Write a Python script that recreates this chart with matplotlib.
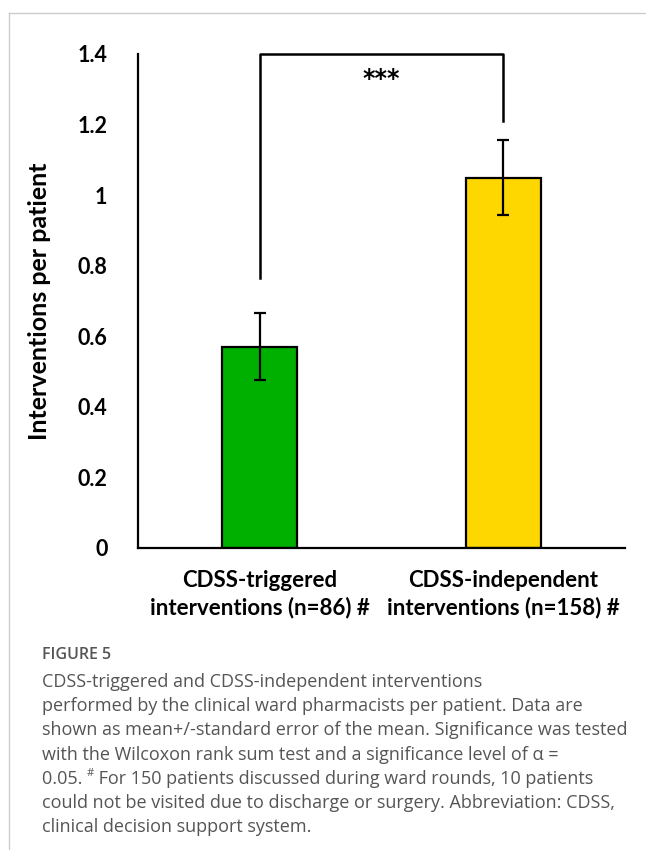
import matplotlib
matplotlib.use("Agg")
import matplotlib.pyplot as plt
from matplotlib.lines import Line2D

categories = ["CDSS-triggered\ninterventions (n=86) #",
              "CDSS-independent\ninterventions (n=158) #"]
means = [0.57, 1.05]
sem = [0.095, 0.105]
bar_colors = ["#00B000", "#FFD700"]
yticks = [0, 0.2, 0.4, 0.6, 0.8, 1, 1.2, 1.4]
ytick_labels = ["0", "0.2", "0.4", "0.6", "0.8", "1", "1.2", "1.4"]

# significance bracket: left foot, top, right foot (data units)
bracket_left, bracket_top, bracket_right = 0.765, 1.4, 1.21
stars = "***"

caption_title = "FIGURE 5"
caption_lines = [
    "CDSS-triggered and CDSS-independent interventions",
    "performed by the clinical ward pharmacists per patient. Data are",
    "shown as mean+/-standard error of the mean. Significance was tested",
    "with the Wilcoxon rank sum test and a significance level of \u03b1 =",
    ("0.05. ", "#", " For 150 patients discussed during ward rounds, 10 patients"),
    "could not be visited due to discharge or surgery. Abbreviation: CDSS,",
    "clinical decision support system.",
]

W, H = 646, 850
fig = plt.figure(figsize=(W / 100, H / 100), dpi=100)
ax = fig.add_axes([138 / W, 1 - 548 / H, (625 - 138) / W, (548 - 54) / H])

x = range(len(categories))
ax.bar(x, means, width=0.31, color=bar_colors, edgecolor="black", linewidth=1.6,
       zorder=2)
ax.errorbar(x, means, yerr=sem, fmt="none", ecolor="black", elinewidth=1.6,
            capsize=4.5, capthick=1.6, zorder=3)

ax.set_xlim(-0.5, 1.5)
ax.set_ylim(0, 1.4)
ax.set_yticks(yticks)
ax.set_yticklabels(ytick_labels)
ax.set_xticks(list(x))
ax.set_xticklabels(categories, linespacing=1.3)

for side in ["top", "right"]:
    ax.spines[side].set_visible(False)
for side in ["left", "bottom"]:
    ax.spines[side].set_linewidth(1.6)

ax.tick_params(axis="both", length=0)
ax.tick_params(axis="y", pad=22)
ax.tick_params(axis="x", pad=16)
for lab in ax.get_yticklabels():
    lab.set_fontfamily("Lato")
    lab.set_fontweight("bold")
    lab.set_fontsize(15.5)
for lab in ax.get_xticklabels():
    lab.set_fontfamily("Lato")
    lab.set_fontweight("bold")
    lab.set_fontsize(16)

ax.set_ylabel("Interventions per patient", fontfamily="Lato", fontweight="bold",
              fontsize=18, labelpad=19)

# bracket between the two groups
ax.plot([0, 0, 1, 1], [bracket_left, bracket_top, bracket_top, bracket_right],
        color="black", linewidth=1.8, clip_on=False, solid_joinstyle="round",
        zorder=4)
ax.text(0.5, 1.33, stars, ha="center", va="center", fontsize=17,
        fontfamily="DejaVu Sans", fontweight="bold")

# page frame lines
frame = "#cccccc"
fig.add_artist(Line2D([9 / W, 1], [1 - 13 / H, 1 - 13 / H], color=frame,
                      linewidth=1.0, transform=fig.transFigure))
fig.add_artist(Line2D([9 / W, 9 / W], [0, 1 - 13 / H], color=frame,
                      linewidth=1.0, transform=fig.transFigure))

cap_color = "#555555"
cap_size = 13
x0 = 42
fig.text(x0 / W, 1 - 655 / H, caption_title, fontfamily="Open Sans",
         fontweight="semibold", fontsize=11.5, color=cap_color, va="center")

renderer = fig.canvas.get_renderer()
for i, line in enumerate(caption_lines):
    yc = 1 - (682 + 24.2 * i) / H
    if isinstance(line, str):
        fig.text(x0 / W, yc, line, fontfamily="Open Sans", fontsize=cap_size,
                 color=cap_color, va="center")
        continue
    # line with a superscript marker
    xp = x0
    for j, part in enumerate(line):
        sup = j == 1
        t = fig.text(xp / W, yc + (5 / H if sup else 0), part,
                     fontfamily="Open Sans", fontsize=8 if sup else cap_size,
                     color=cap_color, va="center")
        xp += t.get_window_extent(renderer).width

fig.savefig("out.png", dpi=100)
